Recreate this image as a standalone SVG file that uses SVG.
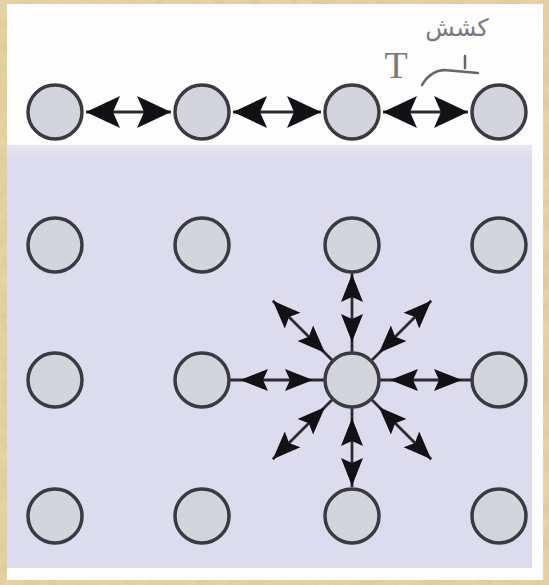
<svg xmlns="http://www.w3.org/2000/svg" xmlns:xlink="http://www.w3.org/1999/xlink" width="549" height="585" viewBox="0 0 549 585">
  <defs>
    <style>
      .node { fill: #d4d4dd; stroke: #3a3a42; stroke-width: 3.5; }
      .link { stroke: #2a2a30; stroke-width: 2.8; fill: none; }
      .head { fill: #111116; }
      .note { fill: #7a7a7a; }
      .noteline { stroke: #666; stroke-width: 2.5; fill: none; stroke-linecap: round; }
    </style>
    <filter id="paper" x="0" y="0" width="100%" height="100%">
      <feTurbulence type="fractalNoise" baseFrequency="0.08" numOctaves="3" seed="4" result="n"/>
      <feColorMatrix in="n" type="matrix" values="0 0 0 0 0.55  0 0 0 0 0.45  0 0 0 0 0.25  0 0 0 0.5 -0.1" result="c"/>
      <feComposite in="c" in2="SourceGraphic" operator="in" result="t"/>
      <feMerge><feMergeNode in="SourceGraphic"/><feMergeNode in="t"/></feMerge>
    </filter>
    <linearGradient id="lav" x1="0" y1="0" x2="0" y2="1">
      <stop offset="0" stop-color="#e6e6f2"/>
      <stop offset="0.03" stop-color="#dddcee"/>
      <stop offset="1" stop-color="#dcdcee"/>
    </linearGradient>
    <marker id="big" viewBox="0 0 34 32" refX="34" refY="16" markerWidth="34" markerHeight="32" markerUnits="userSpaceOnUse" orient="auto-start-reverse">
      <path class="head" d="M0,0 L34,16 L0,32 L7,16 Z"/>
    </marker>
    <path id="hs" class="head" d="M0,0 L-28,-11 L-23,0 L-28,11 Z"/>
  </defs>

  <!-- background -->
  <rect x="0" y="0" width="549" height="585" fill="#e9d4a5" filter="url(#paper)"/>
  <rect x="7" y="4" width="536" height="576" fill="#fdfdfe"/>
  <rect x="7" y="145" width="525" height="423" fill="url(#lav)"/>

  <!-- annotation -->
  <g id="annotation">
    <text x="396" y="78" class="note" font-family="Liberation Serif, serif" font-size="38" text-anchor="middle">T</text>
    <text x="457" y="36" class="note" font-family="DejaVu Sans, sans-serif" font-size="24" text-anchor="middle">کشش</text>
    <path class="noteline" d="M422,85 Q430,71 444,70 L478,73"/>
    <path class="noteline" d="M465,56 L465,68"/>
  </g>

  <!-- connectors -->
  <g id="connectors">
    <line class="link" x1="86" y1="112" x2="171" y2="112" marker-start="url(#big)" marker-end="url(#big)"/>
    <line class="link" x1="233" y1="112" x2="321" y2="112" marker-start="url(#big)" marker-end="url(#big)"/>
    <line class="link" x1="383" y1="112" x2="468" y2="112" marker-start="url(#big)" marker-end="url(#big)"/>

    <line class="link" x1="230" y1="380" x2="324" y2="380"/>
    <line class="link" x1="380" y1="380" x2="471" y2="380"/>
    <line class="link" x1="352" y1="273" x2="352" y2="352"/>
    <line class="link" x1="352" y1="408" x2="352" y2="487"/>
    <line class="link" x1="332.2" y1="360.2" x2="272.8" y2="300.8"/>
    <line class="link" x1="371.8" y1="360.2" x2="431.2" y2="300.8"/>
    <line class="link" x1="332.2" y1="399.8" x2="272.8" y2="459.2"/>
    <line class="link" x1="371.8" y1="399.8" x2="431.2" y2="459.2"/>

    <use xlink:href="#hs" href="#hs" transform="translate(462,380) rotate(0)"/>
    <use xlink:href="#hs" href="#hs" transform="translate(390,380) rotate(180)"/>
    <use xlink:href="#hs" href="#hs" transform="translate(240,380) rotate(180)"/>
    <use xlink:href="#hs" href="#hs" transform="translate(313,380) rotate(0)"/>
    <use xlink:href="#hs" href="#hs" transform="translate(352,274) rotate(-90)"/>
    <use xlink:href="#hs" href="#hs" transform="translate(352,342) rotate(90)"/>
    <use xlink:href="#hs" href="#hs" transform="translate(352,486) rotate(90)"/>
    <use xlink:href="#hs" href="#hs" transform="translate(352,418) rotate(-90)"/>
    <use xlink:href="#hs" href="#hs" transform="translate(272.8,300.8) rotate(-135)"/>
    <use xlink:href="#hs" href="#hs" transform="translate(325.1,353.1) rotate(45)"/>
    <use xlink:href="#hs" href="#hs" transform="translate(431.2,300.8) rotate(-45)"/>
    <use xlink:href="#hs" href="#hs" transform="translate(378.9,353.1) rotate(135)"/>
    <use xlink:href="#hs" href="#hs" transform="translate(272.8,459.2) rotate(135)"/>
    <use xlink:href="#hs" href="#hs" transform="translate(325.1,406.9) rotate(-45)"/>
    <use xlink:href="#hs" href="#hs" transform="translate(431.2,459.2) rotate(45)"/>
    <use xlink:href="#hs" href="#hs" transform="translate(378.9,406.9) rotate(-135)"/>
  </g>

  <!-- nodes -->
  <g id="n11"><circle class="node" cx="55" cy="112" r="27"/></g>
  <g id="n12"><circle class="node" cx="202" cy="112" r="27"/></g>
  <g id="n13"><circle class="node" cx="352" cy="112" r="27"/></g>
  <g id="n14"><circle class="node" cx="499" cy="112" r="27"/></g>
  <g id="n21"><circle class="node" cx="55" cy="245" r="27"/></g>
  <g id="n22"><circle class="node" cx="202" cy="245" r="27"/></g>
  <g id="n23"><circle class="node" cx="352" cy="245" r="27"/></g>
  <g id="n24"><circle class="node" cx="499" cy="245" r="27"/></g>
  <g id="n31"><circle class="node" cx="55" cy="380" r="27"/></g>
  <g id="n32"><circle class="node" cx="202" cy="380" r="27"/></g>
  <g id="n33"><circle class="node" cx="352" cy="380" r="27"/></g>
  <g id="n34"><circle class="node" cx="499" cy="380" r="27"/></g>
  <g id="n41"><circle class="node" cx="55" cy="516" r="27"/></g>
  <g id="n42"><circle class="node" cx="202" cy="516" r="27"/></g>
  <g id="n43"><circle class="node" cx="352" cy="516" r="27"/></g>
  <g id="n44"><circle class="node" cx="499" cy="516" r="27"/></g>
</svg>
